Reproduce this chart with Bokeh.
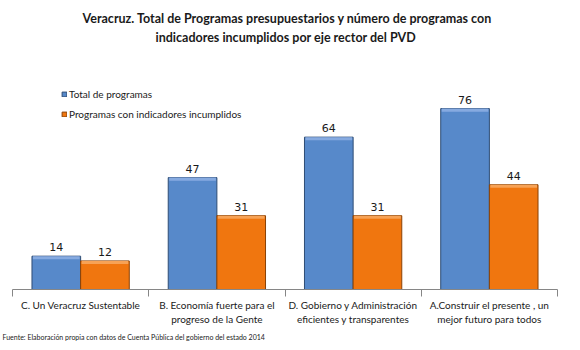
from bokeh.plotting import figure
from bokeh.models import (ColumnDataSource, Range1d, FixedTicker, Legend, LegendItem,
                          Label, Title, LinearAxis)
from bokeh.core.properties import value
from bokeh.embed import file_html
from bokeh.resources import INLINE

categories = ["C. Un Veracruz Sustentable",
              "B. Economía fuerte para el\nprogreso de la Gente",
              "D. Gobierno y Administración\neficientes y transparentes",
              "A.Construir el presente , un\nmejor futuro para todos"]
total = [14, 47, 64, 76]
incumplidos = [12, 31, 31, 44]
series_names = ["Total de programas", "Programas con indicadores incumplidos"]
title_lines = ["Veracruz. Total  de Programas  presupuestarios y número de programas con",
               "indicadores  incumplidos  por  eje rector del PVD"]
source_note = "Fuente: Elaboración propia con datos de Cuenta Pública del gobierno del estado 2014"

BLUE, BLUE_HI, BLUE_DK = "#5789CA", "#86AAE0", "#2E4C74"
ORANGE, ORANGE_HI, ORANGE_DK = "#F0760F", "#F7A255", "#8A4206"
FONT = "Lato"

n = len(categories)
centers = [i + 0.5 for i in range(n)]
bw = 0.357
x_blue = [c - bw / 2 for c in centers]
x_orange = [c + bw / 2 for c in centers]

src = ColumnDataSource(dict(
    xb=x_blue, xo=x_orange, total=total, inc=incumplidos,
    total_hi=[v - 1.3 for v in total], inc_hi=[v - 1.3 for v in incumplidos],
    total_lbl=[str(v) for v in total], inc_lbl=[str(v) for v in incumplidos],
))

p = figure(width=580, height=350, output_backend="svg", toolbar_location=None,
           x_range=Range1d(0, n), y_range=Range1d(0, 121.4),
           x_axis_location=None, y_axis_location=None,
           min_border_left=12, min_border_right=23, min_border_top=0,
           min_border_bottom=61)
p.outline_line_color = None
p.xgrid.visible = False
p.ygrid.visible = False
p.background_fill_color = "white"
p.border_fill_color = "white"

rb = p.vbar(x="xb", top="total", bottom=0, width=bw, source=src,
            fill_color=BLUE, line_color=BLUE_DK, line_width=1)
p.vbar(x="xb", top="total", bottom="total_hi", width=bw * 0.96, source=src,
       fill_color=BLUE_HI, line_color=None)
ro = p.vbar(x="xo", top="inc", bottom=0, width=bw, source=src,
            fill_color=ORANGE, line_color=ORANGE_DK, line_width=1)
p.vbar(x="xo", top="inc", bottom="inc_hi", width=bw * 0.96, source=src,
       fill_color=ORANGE_HI, line_color=None)

p.text(x="xb", y="total", text="total_lbl", source=src, text_align="center",
       text_baseline="bottom", y_offset=-5, text_font=value("DejaVu Sans"),
       text_font_size="11px", text_color="#1a1a1a")
p.text(x="xo", y="inc", text="inc_lbl", source=src, text_align="center",
       text_baseline="bottom", y_offset=-5, text_font=value("DejaVu Sans"),
       text_font_size="11px", text_color="#1a1a1a")

ax = LinearAxis(ticker=FixedTicker(ticks=centers, minor_ticks=list(range(n + 1))))
ax.major_label_overrides = {c: lab for c, lab in zip(centers, categories)}
ax.major_tick_line_color = None
ax.minor_tick_line_color = "#868686"
ax.minor_tick_out = 7
ax.minor_tick_in = 0
ax.axis_line_color = "#868686"
ax.major_label_standoff = 2
ax.major_label_text_font = FONT
ax.major_label_text_font_size = "10px"
ax.major_label_text_color = "#1a1a1a"
p.add_layout(ax, "below")

p.add_layout(Title(text=source_note, align="left", text_font=FONT,
                   text_font_size="7px", text_font_style="normal",
                   text_color="#1a1a1a", offset=-10, standoff=6), "below")

tx = 2.04
p.add_layout(Label(x=tx, y=113.9, text=title_lines[0], text_align="center",
                   text_baseline="middle", text_font=FONT, text_font_size="12.5px",
                   text_font_style="bold", text_color="#1a1a1a"))
p.add_layout(Label(x=tx, y=105.9, text=title_lines[1], text_align="center",
                   text_baseline="middle", text_font=FONT, text_font_size="12.5px",
                   text_font_style="bold", text_color="#1a1a1a"))

legend = Legend(items=[LegendItem(label=series_names[0], renderers=[rb]),
                       LegendItem(label=series_names[1], renderers=[ro])],
                location=(49, 168), orientation="vertical",
                glyph_width=6, glyph_height=6, label_height=14, spacing=6,
                padding=0, margin=0, label_standoff=2,
                label_text_font=FONT, label_text_font_size="10px",
                label_text_color="#1a1a1a", border_line_color=None,
                background_fill_alpha=0)
p.add_layout(legend)

open("out.html", "w").write(file_html(p, INLINE))
